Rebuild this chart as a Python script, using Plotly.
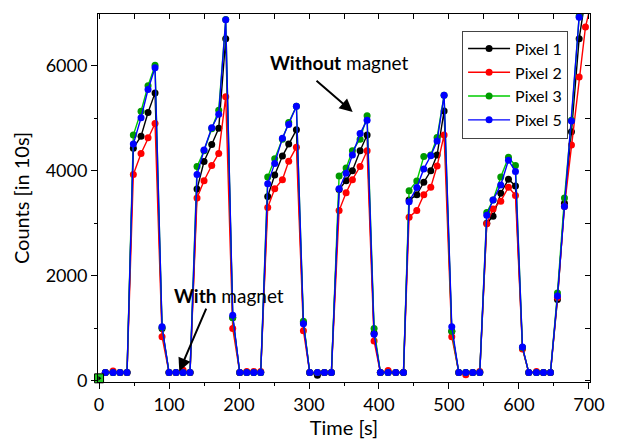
import plotly.graph_objects as go

# Time axis [s]
time_s = [0, 9, 20, 30, 40, 49, 60, 70, 80, 90,
          100, 110, 120, 130, 140, 150, 161, 171, 181, 191,
          201, 211, 221, 231, 241, 251, 262, 271, 282, 292,
          301, 312, 322, 332, 343, 353, 362, 373, 383, 393,
          402, 413, 424, 435, 443, 454, 464, 474, 483, 493,
          504, 514, 524, 534, 544, 554, 563, 574, 585, 595,
          605, 614, 625, 635, 645, 655, 665, 675, 686, 695, 705]

pixel1 = [40, 150, 150, 150, 150, 4430, 4660, 5110, 5485, 990,
          150, 150, 150, 150, 3650, 4175, 4500, 4810, 6520, 1200,
          150, 150, 150, 150, 3510, 3920, 4280, 4510, 4780, 1100,
          150, 100, 150, 150, 3640, 3810, 4000, 4380, 4680, 900,
          150, 150, 150, 150, 3440, 3540, 3780, 4000, 4300, 5140,
          940, 150, 150, 150, 150, 3000, 3130, 3570, 3840, 3710,
          620, 150, 150, 150, 150, 1545, 3380, 4745, 6520, 7300, 8000]

pixel2 = [40, 150, 180, 150, 150, 3930, 4330, 4630, 4900, 835,
          150, 150, 200, 150, 3480, 3810, 4100, 4330, 5410, 990,
          150, 170, 170, 170, 3300, 3655, 3830, 4180, 4450, 950,
          150, 150, 150, 150, 3240, 3580, 3830, 4080, 4380, 750,
          150, 190, 150, 150, 3115, 3240, 3540, 3685, 4090, 4680,
          835, 150, 110, 150, 170, 2990, 3270, 3420, 3685, 3530,
          600, 150, 170, 150, 150, 1580, 3320, 4490, 5790, 6740, 7300]

pixel3 = [40, 150, 150, 150, 150, 4680, 5135, 5620, 6010, 1010,
          150, 150, 150, 150, 4080, 4380, 4800, 5155, 6885, 1195,
          150, 150, 150, 150, 3880, 4230, 4600, 4920, 5230, 1130,
          150, 150, 150, 150, 3900, 4050, 4380, 4600, 5050, 990,
          150, 150, 150, 150, 3620, 3805, 4270, 4300, 4635, 5440,
          940, 150, 150, 150, 150, 3205, 3440, 3880, 4255, 4100,
          630, 150, 150, 150, 150, 1670, 3480, 4965, 6950, 7600, 8200]

pixel5 = [40, 150, 150, 150, 150, 4510, 5010, 5550, 5965, 1025,
          150, 150, 150, 150, 3930, 4395, 4820, 5080, 6880, 1245,
          150, 150, 150, 150, 3750, 4140, 4620, 4880, 5230, 1080,
          150, 150, 150, 150, 3655, 3950, 4300, 4710, 4965, 880,
          150, 150, 150, 150, 3410, 3680, 4035, 4285, 4565, 5440,
          1025, 150, 150, 150, 150, 3150, 3440, 3730, 4200, 3985,
          640, 150, 150, 150, 150, 1610, 3320, 4950, 6930, 7600, 8200]

series_names = ["Pixel 1", "Pixel 2", "Pixel 3", "Pixel 5"]
series_values = [pixel1, pixel2, pixel3, pixel5]
line_colors = ["#000000", "#FF0000", "#00CC00", "#0000FF"]
marker_colors = ["#000000", "#FF0000", "#009A00", "#0000FF"]

FONT = "Lato"

fig = go.Figure()
for name, vals, lc, mc in zip(series_names, series_values, line_colors, marker_colors):
    fig.add_trace(go.Scatter(
        x=time_s, y=vals, name=name, mode="lines+markers",
        line=dict(color=lc, width=1.4),
        marker=dict(color=mc, size=7, line=dict(width=0)),
    ))

# start marker at t=0
fig.add_trace(go.Scatter(x=[0], y=[40], mode="markers", showlegend=False,
                         marker=dict(symbol="square", size=9, color="#22CC22",
                                     line=dict(color="#000000", width=1)),
                         cliponaxis=False))
fig.add_trace(go.Scatter(x=[0.5], y=[40], mode="markers", showlegend=False,
                         marker=dict(symbol="triangle-right", size=4, color="#000000"),
                         cliponaxis=False))

# dummy trace for mirrored inward ticks (top/right)
fig.add_trace(go.Scatter(x=[None], y=[None], xaxis="x2", yaxis="y2", showlegend=False,
                         hoverinfo="skip"))

XR = [-1.5, 701.5]
YR = [-30, 6990]

fig.update_layout(
    width=611, height=432,
    margin=dict(l=90, r=29, t=6, b=58),
    paper_bgcolor="white", plot_bgcolor="white",
    font=dict(family=FONT, size=18, color="#000000"),
    showlegend=True,
    legend=dict(x=0.74, y=0.955, xanchor="left", yanchor="top",
                bgcolor="white", bordercolor="#444444", borderwidth=1,
                font=dict(family=FONT, size=16), tracegroupgap=0,
                itemwidth=42),
    xaxis=dict(range=XR, showgrid=False, zeroline=False, showline=True,
               linecolor="black", linewidth=1, ticks="outside", ticklen=6,
               tickcolor="black", tickvals=[0, 100, 200, 300, 400, 500, 600, 700],
               minor=dict(tickvals=[50, 150, 250, 350, 450, 550, 650], ticks="outside",
                          ticklen=3, tickcolor="black"),
               tickfont=dict(size=18), title=dict(text="Time [s]", font=dict(size=20), standoff=2)),
    yaxis=dict(range=YR, showgrid=False, zeroline=False, showline=True,
               linecolor="black", linewidth=1, ticks="outside", ticklen=6,
               tickcolor="black", tickvals=[0, 2000, 4000, 6000],
               minor=dict(tickvals=[1000, 3000, 5000], ticks="outside",
                          ticklen=3, tickcolor="black"),
               tickfont=dict(size=18), title=dict(text="Counts [in 10s]", font=dict(size=20), standoff=10)),
    xaxis2=dict(range=XR, overlaying="x", side="top", showgrid=False, zeroline=False,
                showline=True, linecolor="black", linewidth=1, ticks="inside", ticklen=5,
                tickcolor="black", tickvals=[0, 50, 100, 150, 200, 250, 300, 350, 400, 450,
                                             500, 550, 600, 650, 700],
                showticklabels=False),
    yaxis2=dict(range=YR, overlaying="y", side="right", showgrid=False, zeroline=False,
                showline=True, linecolor="black", linewidth=1, ticks="inside", ticklen=5,
                tickcolor="black", tickvals=[0, 1000, 2000, 3000, 4000, 5000, 6000],
                showticklabels=False),
)

# annotations: text
fig.add_annotation(x=186, y=1620, text="<b>With</b> magnet", showarrow=False,
                   font=dict(family=FONT, size=19), xanchor="center", yanchor="middle")
fig.add_annotation(x=343, y=6070, text="<b>Without</b> magnet", showarrow=False,
                   font=dict(family=FONT, size=19), xanchor="center", yanchor="middle")
# arrows
fig.add_annotation(x=114.7, y=177, ax=154, ay=1398, axref="x", ayref="y", text="",
                   showarrow=True, arrowhead=2, arrowsize=1.3, arrowwidth=2, arrowcolor="black")
fig.add_annotation(x=362.4, y=5122, ax=308.6, ay=5740, axref="x", ayref="y", text="",
                   showarrow=True, arrowhead=2, arrowsize=1.3, arrowwidth=2, arrowcolor="black")

fig.write_html("out.html")
